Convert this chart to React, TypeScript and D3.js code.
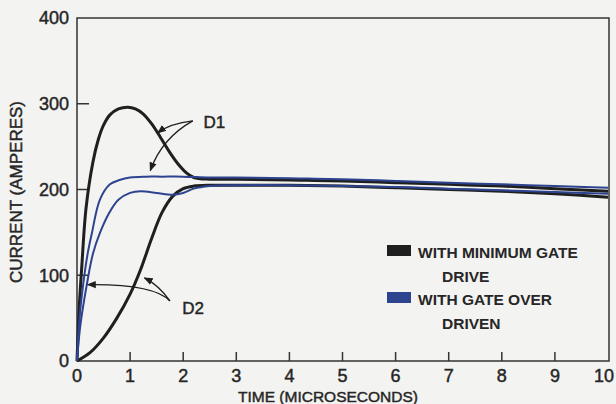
import React from "react";
import * as d3 from "d3";

// ---- data (time in microseconds, current in amperes) ----
const d1MinT = [0, 0.04, 0.09, 0.17, 0.3, 0.4, 0.5, 0.62, 0.78, 0.96, 1.1, 1.25, 1.4, 1.57, 1.75, 1.9, 2.05, 2.2, 2.5, 3, 4, 5, 6, 7, 8, 9, 10];
const d1MinV = [0, 60, 110, 178, 232, 258, 275, 287, 294, 296, 294, 288, 277, 261, 243, 230, 220, 214, 212, 212, 211, 210, 208, 206, 204, 201, 198];

const d2MinT = [0, 0.25, 0.5, 0.75, 1.0, 1.2, 1.4, 1.6, 1.8, 2.0, 2.2, 2.5, 3, 4, 5, 6, 7, 8, 9, 10];
const d2MinV = [0, 10, 27, 50, 78, 107, 142, 173, 192, 201, 204, 205, 205, 205, 204, 202, 200, 198, 195, 191];

const d1OverT = [0, 0.04, 0.12, 0.2, 0.28, 0.43, 0.62, 0.8, 1.0, 1.3, 1.6, 2, 2.5, 3, 4, 5, 6, 7, 8, 9, 10];
const d1OverV = [0, 45, 91, 125, 149, 188, 206, 211, 214, 215, 215, 215, 214, 214, 213, 212, 210, 208, 206, 204, 202];

const d2OverT = [0, 0.06, 0.19, 0.3, 0.43, 0.6, 0.78, 1.0, 1.2, 1.5, 1.8, 2.0, 2.2, 2.5, 3, 4, 5, 6, 7, 8, 9, 10];
const d2OverV = [0, 40, 91, 125, 149, 172, 188, 196, 198, 196, 194, 196, 201, 204, 205, 205, 204, 203, 201, 199, 197, 195];

const xTicks = [0, 1, 2, 3, 4, 5, 6, 7, 8, 9, 10];
const yTicks = [0, 100, 200, 300, 400];
const xTitle = "TIME (MICROSECONDS)";
const yTitle = "CURRENT (AMPERES)";
const legendLines1 = ["WITH MINIMUM GATE", "DRIVE"];
const legendLines2 = ["WITH GATE OVER", "DRIVEN"];

// annotation anchors in data units
const d1Label = { t: 2.38, v: 279, text: "D1" };
const d1Arrows = [
  { from: [2.18, 280], ctrl: [1.75, 277], to: [1.52, 266] },
  { from: [2.18, 280], ctrl: [1.6, 260], to: [1.38, 222] },
];
const d2Label = { t: 1.98, v: 62, text: "D2" };
const d2Arrows = [
  { from: [1.75, 70], ctrl: [1.55, 88], to: [1.27, 97] },
  { from: [1.75, 70], ctrl: [1.45, 90], to: [0.2, 89] },
];

const BLACK = "#1f1f1f";
const BLUE = "#2d4390";
const TEXT = "#262626";

export default function App() {
  const W = 616, H = 404;
  const x = d3.scaleLinear().domain([0, 10]).range([77, 608]);
  const y = d3.scaleLinear().domain([0, 400]).range([361, 18]);
  const line = d3
    .line<[number, number]>()
    .x((d) => x(d[0]))
    .y((d) => y(d[1]))
    .curve(d3.curveCatmullRom.alpha(0.5));
  const zip = (a: number[], b: number[]) => a.map((t, i) => [t, b[i]] as [number, number]);

  const arrowPath = (a: { from: number[]; ctrl: number[]; to: number[] }) => {
    const p = d3.path();
    p.moveTo(x(a.from[0]), y(a.from[1]));
    p.quadraticCurveTo(x(a.ctrl[0]), y(a.ctrl[1]), x(a.to[0]), y(a.to[1]));
    return p.toString();
  };

  const font = "'Liberation Sans', Arial, sans-serif";
  const bold = { stroke: TEXT, strokeWidth: 0.45 };
  const lastTick = xTicks[xTicks.length - 1];
  return (
    <svg
      width={W}
      height={H}
      style={{ position: "absolute", left: 0, top: 0, background: "#f3f3f1" }}
    >
      <defs>
        <marker id="ah" viewBox="0 0 10 10" refX="9" refY="5" markerWidth="7" markerHeight="7" orient="auto">
          <path d="M0,1 L10,5 L0,9 Z" fill={BLACK} />
        </marker>
      </defs>
      <rect width={W} height={H} fill="#f3f3f1" />
      {/* frame */}
      <rect x={x(0)} y={y(400)} width={x(10) - x(0) + 1} height={y(0) - y(400)} fill="none" stroke="#333" strokeWidth={1.5} />
      {/* ticks */}
      {yTicks.filter((v) => v > 0 && v < 400).map((v) => (
        <line key={"yt" + v} x1={x(0)} x2={x(0) + 12} y1={y(v)} y2={y(v)} stroke="#333" strokeWidth={1.5} />
      ))}
      {xTicks.filter((t) => t > 0 && t < 10).map((t) => (
        <line key={"xt" + t} x1={x(t)} x2={x(t)} y1={y(0)} y2={y(0) - 9} stroke="#333" strokeWidth={1.5} />
      ))}
      {yTicks.map((v) => (
        <text key={"yl" + v} x={69} y={y(v)} dy="0.36em" textAnchor="end" fontFamily={font} fontSize={18} fill={TEXT} {...bold}>
          {v}
        </text>
      ))}
      {xTicks.map((t) => (
        <text
          key={"xl" + t}
          x={t === lastTick ? W - 2 : x(t)}
          y={382}
          textAnchor={t === lastTick ? "end" : "middle"}
          fontFamily={font}
          fontSize={18}
          fill={TEXT}
          {...bold}
        >
          {t}
        </text>
      ))}
      <text x={328} y={402} textAnchor="middle" fontFamily={font} fontSize={15.5} fill={TEXT} {...bold}>
        {xTitle}
      </text>
      <text transform="translate(22,192) rotate(-90)" textAnchor="middle" fontFamily={font} fontSize={17} fill={TEXT} {...bold}>
        {yTitle}
      </text>

      {/* curves */}
      <path d={line(zip(d2MinT, d2MinV)) || ""} fill="none" stroke={BLACK} strokeWidth={3} />
      <path d={line(zip(d1MinT, d1MinV)) || ""} fill="none" stroke={BLACK} strokeWidth={3} />
      <path d={line(zip(d2OverT, d2OverV)) || ""} fill="none" stroke={BLUE} strokeWidth={2} />
      <path d={line(zip(d1OverT, d1OverV)) || ""} fill="none" stroke={BLUE} strokeWidth={2} />

      {/* annotations */}
      {[...d1Arrows, ...d2Arrows].map((a, i) => (
        <path key={"ar" + i} d={arrowPath(a)} fill="none" stroke={BLACK} strokeWidth={1.3} markerEnd="url(#ah)" />
      ))}
      <text x={x(d1Label.t)} y={y(d1Label.v)} dy="0.36em" fontFamily={font} fontSize={17} fill={TEXT} {...bold}>
        {d1Label.text}
      </text>
      <text x={x(d2Label.t)} y={y(d2Label.v)} dy="0.36em" fontFamily={font} fontSize={17} fill={TEXT} {...bold}>
        {d2Label.text}
      </text>

      {/* legend */}
      <rect x={387} y={245} width={24} height={11} fill={BLACK} />
      <text x={418} y={258} fontFamily={font} fontSize={15.5} fontWeight="bold" fill={TEXT}>{legendLines1[0]}</text>
      <text x={442} y={282} fontFamily={font} fontSize={15.5} fontWeight="bold" fill={TEXT}>{legendLines1[1]}</text>
      <rect x={387} y={292} width={24} height={11} fill={BLUE} />
      <text x={418} y={305} fontFamily={font} fontSize={15.5} fontWeight="bold" fill={TEXT}>{legendLines2[0]}</text>
      <text x={442} y={329} fontFamily={font} fontSize={15.5} fontWeight="bold" fill={TEXT}>{legendLines2[1]}</text>
    </svg>
  );
}
